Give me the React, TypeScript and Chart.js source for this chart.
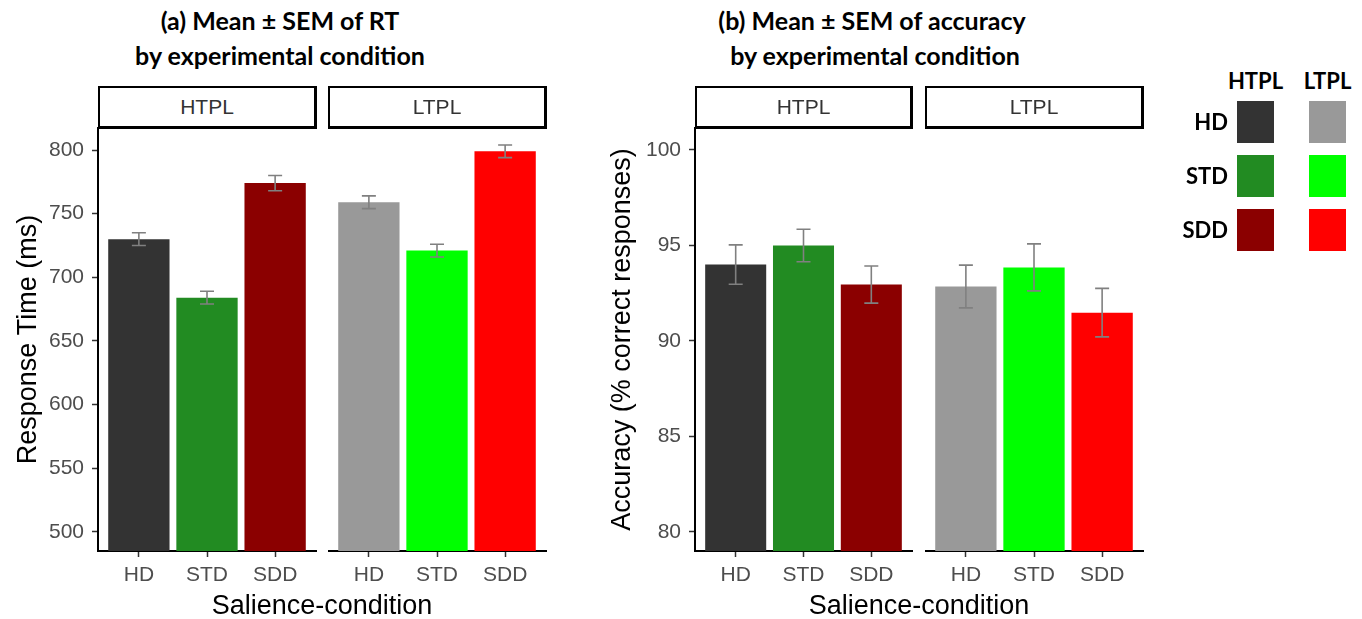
import React, { useEffect, useRef } from 'react';
import { Chart, registerables } from 'chart.js';

Chart.register(...registerables);

// ---------------- data ----------------
const CONDITIONS = ['HD', 'STD', 'SDD'];
const GROUPS = ['HTPL', 'LTPL'];

const RT_HTPL = [730, 684, 774];
const RT_HTPL_SEM = [5, 5, 6];
const RT_LTPL = [759, 721, 799];
const RT_LTPL_SEM = [5, 5, 5];

const ACC_HTPL = [94.0, 95.0, 92.95];
const ACC_HTPL_SEM = [1.03, 0.85, 0.97];
const ACC_LTPL = [92.85, 93.85, 91.48];
const ACC_LTPL_SEM = [1.12, 1.23, 1.27];

const RT_TICKS = [500, 550, 600, 650, 700, 750, 800];
const ACC_TICKS = [80, 85, 90, 95, 100];

const HTPL_COLORS = ['#333333', '#228B22', '#8B0000'];
const LTPL_COLORS = ['#999999', '#00FF00', '#FF0000'];

// ---------------- style / layout ----------------
const AXIS_FONT = '"Liberation Sans", Arial, sans-serif';
const TITLE_FONT = 'Lato, "Open Sans", sans-serif';
const TICK_COLOR = '#4d4d4d';
const PLOT_TOP = 128;
const PLOT_BOTTOM = 551;
const PAD_TOP = 30;
const CANVAS_TOP = PLOT_TOP - PAD_TOP;
const CANVAS_H = 619 - CANVAS_TOP;
const X_AXIS_H = 619 - PLOT_BOTTOM;

const errorBarPlugin = {
  id: 'errorBars',
  afterDatasetsDraw(chart: any, _args: any, opts: any) {
    const sem: number[] = opts.sem;
    if (!sem) return;
    const ctx = chart.ctx;
    const xs = chart.scales.x;
    const ys = chart.scales.y;
    const data = chart.data.datasets[0].data as { x: number; y: number }[];
    ctx.save();
    ctx.strokeStyle = opts.color;
    ctx.lineWidth = opts.width;
    data.forEach((pt, i) => {
      const x = xs.getPixelForValue(pt.x);
      const hi = ys.getPixelForValue(pt.y + sem[i]);
      const lo = ys.getPixelForValue(pt.y - sem[i]);
      ctx.beginPath();
      ctx.moveTo(x, hi);
      ctx.lineTo(x, lo);
      ctx.moveTo(x - opts.cap, hi);
      ctx.lineTo(x + opts.cap, hi);
      ctx.moveTo(x - opts.cap, lo);
      ctx.lineTo(x + opts.cap, lo);
      ctx.stroke();
    });
    ctx.restore();
  },
};

type FacetProps = {
  values: number[];
  sem: number[];
  colors: string[];
  yMin: number;
  yMax: number;
  yTicks: number[];
  yTitle?: string;
  canvasLeft: number;
  plotLeft: number;
  plotRight: number;
  titlePad?: number;
};

function Facet(p: FacetProps) {
  const ref = useRef<HTMLCanvasElement>(null);
  const width = p.plotRight + 4 - p.canvasLeft;
  const showY = !!p.yTitle;
  useEffect(() => {
    if (!ref.current) return;
    const gridOpts = {
      display: true,
      drawOnChartArea: false,
      drawTicks: true,
      tickLength: 6,
      tickColor: '#333333',
      tickWidth: 1.5,
      offset: false,
    };
    const chart = new Chart(ref.current, {
      type: 'bar',
      data: {
        datasets: [
          {
            data: p.values.map((v, i) => ({ x: i + 1, y: v })),
            backgroundColor: p.colors,
            borderWidth: 0,
            categoryPercentage: 0.9,
            barPercentage: 1,
          } as any,
        ],
      },
      options: {
        responsive: false,
        maintainAspectRatio: false,
        animation: false,
        devicePixelRatio: 1,
        layout: { padding: { top: PAD_TOP, right: 4, bottom: 0, left: 0 } },
        plugins: {
          legend: { display: false },
          tooltip: { enabled: false },
          title: { display: false },
          errorBars: { sem: p.sem, color: '#808080', width: 1.6, cap: 7 },
        } as any,
        scales: {
          x: {
            type: 'linear',
            min: 0.4,
            max: 3.6,
            offset: false,
            afterBuildTicks: (s: any) => {
              s.ticks = CONDITIONS.map((_, i) => ({ value: i + 1 }));
            },
            afterFit: (s: any) => {
              s.height = X_AXIS_H;
            },
            ticks: {
              callback: (v: any) => CONDITIONS[Math.round(Number(v)) - 1],
              color: TICK_COLOR,
              font: { family: AXIS_FONT, size: 21 },
              padding: 6,
              autoSkip: false,
              maxRotation: 0,
            },
            grid: gridOpts,
            border: { display: true, color: '#000000', width: 2 },
          },
          y: {
            type: 'linear',
            min: p.yMin,
            max: p.yMax,
            display: showY,
            afterBuildTicks: (s: any) => {
              s.ticks = p.yTicks.map((v) => ({ value: v }));
            },
            afterFit: (s: any) => {
              s.width = p.plotLeft - p.canvasLeft;
            },
            ticks: {
              color: TICK_COLOR,
              font: { family: AXIS_FONT, size: 21 },
              padding: 8,
            },
            title: {
              display: showY,
              text: p.yTitle || '',
              color: '#000000',
              font: { family: AXIS_FONT, size: 27 },
              padding: { top: p.titlePad || 0, bottom: 0 },
            },
            grid: gridOpts,
            border: { display: true, color: '#000000', width: 2 },
          },
        } as any,
      },
      plugins: [errorBarPlugin],
    });
    return () => chart.destroy();
  }, []);
  return (
    <canvas
      ref={ref}
      width={width}
      height={CANVAS_H}
      style={{ position: 'absolute', left: p.canvasLeft, top: CANVAS_TOP, width, height: CANVAS_H, display: 'block' }}
    />
  );
}

function Strip({ left, right, text }: { left: number; right: number; text: string }) {
  return (
    <div
      style={{
        position: 'absolute',
        left,
        top: 86,
        width: right - left,
        height: PLOT_TOP - 86 + 1,
        boxSizing: 'border-box',
        borderStyle: 'solid',
        borderColor: '#000',
        borderWidth: '2px 3px 3px 2px',
        background: '#fff',
        color: '#333333',
        font: `21px ${AXIS_FONT}`,
        display: 'flex',
        alignItems: 'center',
        justifyContent: 'center',
      }}
    >
      {text}
    </div>
  );
}

function Title({ center, lines }: { center: number; lines: string[] }) {
  return (
    <div
      style={{
        position: 'absolute',
        left: center - 300,
        top: 3,
        width: 600,
        textAlign: 'center',
        font: `bold 25px ${TITLE_FONT}`,
        lineHeight: '35px',
        color: '#000',
        whiteSpace: 'pre',
      }}
    >
      {lines.map((l, i) => (
        <div key={i}>{l}</div>
      ))}
    </div>
  );
}

function XTitle({ center, text }: { center: number; text: string }) {
  return (
    <div
      style={{
        position: 'absolute',
        left: center - 200,
        top: 589,
        width: 400,
        textAlign: 'center',
        font: `27px ${AXIS_FONT}`,
        lineHeight: '32px',
        color: '#000',
      }}
    >
      {text}
    </div>
  );
}

function Legend() {
  const colX = [1237, 1309];
  const rowY = [101, 155, 209];
  const sets = [HTPL_COLORS, LTPL_COLORS];
  const txt = { position: 'absolute' as const, font: `bold 22px ${TITLE_FONT}`, color: '#000', lineHeight: '26px' };
  return (
    <>
      {GROUPS.map((g, j) => (
        <div key={g} style={{ ...txt, left: colX[j] - 20, top: 68, width: 77, textAlign: 'center' }}>
          {g}
        </div>
      ))}
      {CONDITIONS.map((c, i) => (
        <div key={c} style={{ ...txt, left: 1128, top: rowY[i] + 8, width: 100, textAlign: 'right' }}>
          {c}
        </div>
      ))}
      {CONDITIONS.map((c, i) =>
        sets.map((s, j) => (
          <div
            key={c + j}
            style={{ position: 'absolute', left: colX[j], top: rowY[i], width: 37, height: 42, background: s[i] }}
          />
        ))
      )}
    </>
  );
}

export default function App() {
  return (
    <div
      style={{
        position: 'fixed',
        left: 0,
        top: 0,
        width: 1362,
        height: 619,
        background: '#ffffff',
        overflow: 'hidden',
      }}
    >
      <Title center={280} lines={['(a) Mean ± SEM of RT', 'by experimental condition']} />
      <Title center={872} lines={['(b) Mean ± SEM of accuracy', ' by experimental condition']} />

      <Facet
        values={RT_HTPL}
        sem={RT_HTPL_SEM}
        colors={HTPL_COLORS}
        yMin={485}
        yMax={817.3}
        yTicks={RT_TICKS}
        yTitle="Response Time (ms)"
        canvasLeft={0}
        plotLeft={98}
        plotRight={316}
        titlePad={12}
      />
      <Facet
        values={RT_LTPL}
        sem={RT_LTPL_SEM}
        colors={LTPL_COLORS}
        yMin={485}
        yMax={817.3}
        yTicks={RT_TICKS}
        canvasLeft={328}
        plotLeft={328}
        plotRight={546}
      />
      <Facet
        values={ACC_HTPL}
        sem={ACC_HTPL_SEM}
        colors={HTPL_COLORS}
        yMin={79.0}
        yMax={101.15}
        yTicks={ACC_TICKS}
        yTitle="Accuracy (% correct responses)"
        canvasLeft={590}
        plotLeft={695}
        plotRight={912}
        titlePad={16}
      />
      <Facet
        values={ACC_LTPL}
        sem={ACC_LTPL_SEM}
        colors={LTPL_COLORS}
        yMin={79.0}
        yMax={101.15}
        yTicks={ACC_TICKS}
        canvasLeft={925}
        plotLeft={925}
        plotRight={1143}
      />

      <Strip left={98} right={317} text={GROUPS[0]} />
      <Strip left={328} right={547} text={GROUPS[1]} />
      <Strip left={695} right={913} text={GROUPS[0]} />
      <Strip left={925} right={1144} text={GROUPS[1]} />

      <XTitle center={322} text="Salience-condition" />
      <XTitle center={919} text="Salience-condition" />

      <Legend />
    </div>
  );
}
